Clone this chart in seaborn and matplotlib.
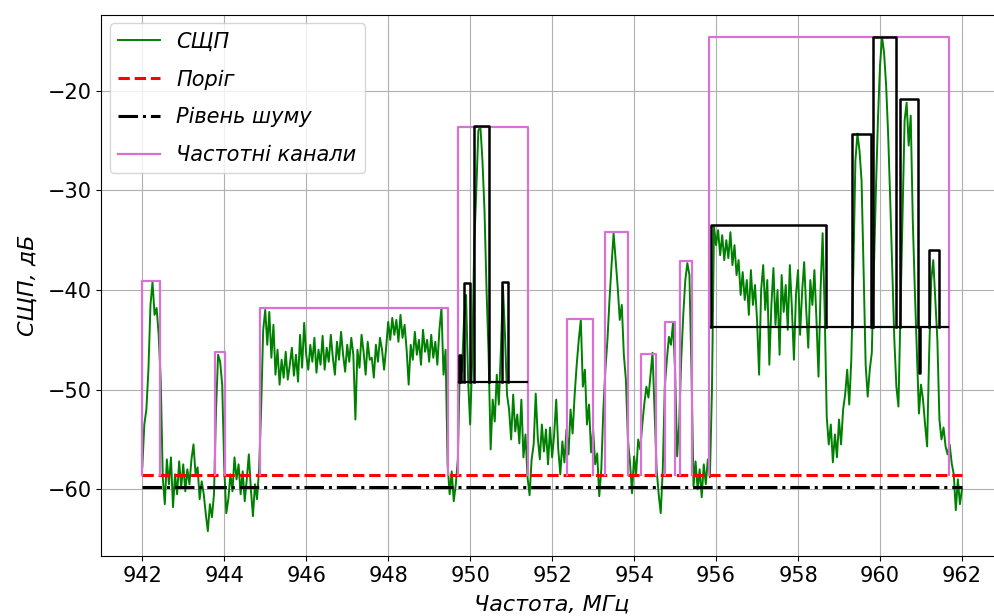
import numpy as np
import matplotlib
matplotlib.use("Agg")
import matplotlib.pyplot as plt
import seaborn as sns

# PSD trace, 0.05 MHz step from 942 to 962 MHz
psd_942 = [-57.8, -53.5, -52.0, -48.0, -41.5, -39.2, -42.5, -41.8, -44.5, -49.0,
           -58.8, -61.5, -57.0, -59.5, -56.8, -61.8, -58.5, -60.5, -57.2, -59.8]
psd_943 = [-57.5, -60.2, -58.0, -59.5, -57.0, -55.5, -58.5, -57.8, -61.0, -59.2,
           -60.5, -62.5, -64.2, -61.5, -62.8, -60.5, -52.0, -46.5, -47.2, -49.5]
psd_944 = [-57.8, -62.4, -61.0, -58.5, -60.2, -56.8, -59.0, -57.5, -60.5, -58.2,
           -61.2, -59.0, -56.5, -60.0, -62.7, -59.5, -61.0, -58.0, -52.0, -44.0]
psd_945 = [-42.0, -45.5, -42.2, -46.8, -43.5, -48.5, -46.0, -49.5, -47.0, -48.8,
           -46.2, -49.0, -47.5, -45.8, -48.6, -46.5, -49.2, -44.5, -47.8, -43.3]
psd_946 = [-46.5, -48.0, -45.5, -47.2, -44.8, -48.3, -46.0, -47.5, -44.6, -48.0,
           -45.8, -47.2, -44.5, -46.8, -48.5, -45.2, -47.0, -44.2, -46.5, -48.2]
psd_947 = [-45.5, -47.2, -44.8, -46.5, -53.0, -46.0, -47.8, -44.5, -46.2, -48.5,
           -45.2, -47.0, -46.8, -48.8, -45.5, -47.2, -44.8, -46.0, -48.0]
psd_948 = [-45.8, -43.2, -45.0, -42.8, -44.5, -43.0, -45.2, -42.5, -44.8, -43.5,
           -46.0, -49.5, -45.5, -47.0, -44.2, -46.5, -45.0, -47.5, -44.0, -46.2]
psd_949 = [-45.0, -47.2, -44.5, -46.8, -45.2, -47.5, -44.0, -41.8, -48.5, -46.0,
           -57.5, -60.5, -58.2, -61.2, -59.5, -57.0, -47.0, -48.2, -43.0, -40.5]
psd_950 = [-49.0, -53.5, -47.0, -35.5, -30.0, -24.0, -23.6, -27.0, -32.0, -40.0,
           -46.5, -56.0, -51.0, -53.2, -48.5, -51.5, -46.0, -39.6, -44.5, -50.5]
psd_951 = [-52.0, -55.0, -50.5, -54.2, -52.5, -55.4, -51.0, -56.8, -54.5, -58.8,
           -60.6, -57.0, -55.5, -50.4, -54.8, -57.0, -53.5, -56.2, -54.0, -57.5]
psd_952 = [-53.8, -56.8, -54.5, -51.0, -56.0, -58.5, -55.2, -57.3, -54.0, -56.5,
           -52.0, -54.4, -50.5, -47.5, -45.0, -43.0, -49.7, -48.0, -53.5, -51.5]
psd_953 = [-56.3, -54.0, -57.5, -56.4, -60.7, -58.0, -52.0, -48.0, -45.0, -41.0,
           -37.5, -34.3, -37.0, -39.7, -43.0, -41.5, -46.5, -49.0, -55.0, -57.3]
psd_954 = [-60.4, -56.7, -58.5, -55.0, -56.0, -53.5, -51.4, -49.7, -50.8, -48.5,
           -46.3, -52.0, -58.0, -60.5, -62.4, -58.0, -49.7, -47.0, -44.7, -45.5]
psd_955 = [-43.3, -48.0, -56.7, -53.4, -47.0, -42.5, -39.0, -37.3, -38.5, -48.0,
           -59.7, -57.2, -60.0, -58.0, -60.8, -57.5, -59.5, -57.0, -58.8, -50.0]
psd_956 = [-33.6, -35.5, -34.0, -36.5, -34.5, -37.0, -35.0, -36.8, -34.2, -37.5,
           -35.5, -38.5, -37.0, -40.5, -38.2, -41.0, -39.0, -42.5, -38.0, -41.5]
psd_957 = [-39.5, -43.0, -48.5, -40.0, -37.5, -42.0, -39.0, -47.5, -41.5, -37.8,
           -43.5, -40.0, -46.5, -38.5, -42.2, -39.5, -44.0, -37.5, -41.8, -47.0]
psd_958 = [-40.5, -38.0, -44.5, -40.2, -37.2, -42.0, -45.8, -39.0, -41.5, -38.0,
           -43.0, -48.7, -40.0, -34.3, -42.0, -52.7, -55.5, -53.5, -57.3]
psd_959 = [-54.5, -56.8, -53.0, -55.5, -52.0, -50.5, -48.0, -51.5, -47.0, -38.0,
           -27.0, -24.3, -26.0, -29.0, -38.0, -47.5, -50.7, -48.0, -46.3, -38.0]
psd_960 = [-30.0, -22.9, -17.5, -14.6, -16.2, -19.5, -24.5, -31.0, -38.0, -45.0,
           -49.7, -51.7, -42.0, -32.0, -23.0, -21.2, -25.5, -22.5, -33.0, -40.0]
psd_961 = [-46.3, -52.4, -49.5, -51.0, -53.5, -55.7, -46.3, -39.0, -37.0, -41.0,
           -45.0, -53.0, -55.0, -53.8, -55.7, -56.5, -55.5, -57.4, -58.5, -62.1,
           -59.0, -61.5, -60.0]

psd = (psd_942 + psd_943 + psd_944 + psd_945 + psd_946 + psd_947 + psd_948
       + psd_949 + psd_950 + psd_951 + psd_952 + psd_953 + psd_954 + psd_955
       + psd_956 + psd_957 + psd_958 + psd_959 + psd_960 + psd_961)
freq = np.linspace(942, 962, len(psd))

threshold = -58.6
noise_level = -59.8

# frequency channels (magenta)
chan_lo = [942.00, 943.77, 944.87, 949.71, 952.36, 953.28, 954.16, 954.75, 955.12, 955.84]
chan_hi = [942.43, 944.02, 949.47, 951.40, 953.00, 953.86, 954.53, 955.01, 955.42, 961.69]
chan_top = [-39.1, -46.2, -41.8, -23.6, -42.9, -34.2, -46.4, -43.2, -37.1, -14.6]

# sub-channels (black) inside the two wide channels
sub_base = [-49.2, -43.7]
sub_span_lo = [949.73, 955.88]
sub_span_hi = [951.39, 961.67]
sub_group = [0, 0, 0, 0, 1, 1, 1, 1, 1, 1]
sub_lo = [949.73, 949.86, 950.10, 950.77, 955.88, 959.32, 959.83, 960.48, 960.96, 961.19]
sub_hi = [949.78, 950.00, 950.47, 950.92, 958.69, 959.78, 960.40, 960.92, 960.98, 961.43]
sub_top = [-46.5, -39.3, -23.5, -39.2, -33.5, -24.3, -14.6, -20.8, -48.3, -36.0]

fig = plt.figure(figsize=(9.94, 6.16), dpi=100)
ax = fig.add_axes([0.1019, 0.0974, 0.9071, 0.8782])

sns.lineplot(x=freq, y=psd, color='green', lw=1.4, ax=ax, label='СЩП')
ax.plot([942, 962], [threshold, threshold], 'r--', lw=2.2, label='Поріг')
ax.plot([942, 962], [noise_level, noise_level], 'k-.', lw=2.2, label='Рівень шуму')

for i in range(len(chan_lo)):
    ax.plot([chan_lo[i], chan_lo[i], chan_hi[i], chan_hi[i]],
            [threshold, chan_top[i], chan_top[i], threshold],
            color='orchid', lw=1.6, label='Частотні канали' if i == 0 else None)

for g in range(len(sub_base)):
    ax.plot([sub_span_lo[g], sub_span_hi[g]], [sub_base[g], sub_base[g]], color='k', lw=1.6)
for i in range(len(sub_lo)):
    b = sub_base[sub_group[i]]
    ax.plot([sub_lo[i], sub_lo[i], sub_hi[i], sub_hi[i]],
            [b, sub_top[i], sub_top[i], b], color='k', lw=1.8)

ax.set_xlim(941, 963)
ax.set_ylim(-66.7, -12.4)
ax.set_xticks(np.arange(942, 963, 2))
ax.set_yticks([-60, -50, -40, -30, -20])
ax.tick_params(labelsize=15)
ax.grid(True)
ax.set_xlabel('Частота, МГц', fontsize=16, fontstyle='italic', labelpad=6)
ax.set_ylabel('СЩП, дБ', fontsize=16, fontstyle='italic', labelpad=7)
ax.legend(loc='upper left', prop={'size': 15, 'style': 'italic'}, labelspacing=0.85,
          borderaxespad=0.4)

plt.savefig('out.png', dpi=100)
